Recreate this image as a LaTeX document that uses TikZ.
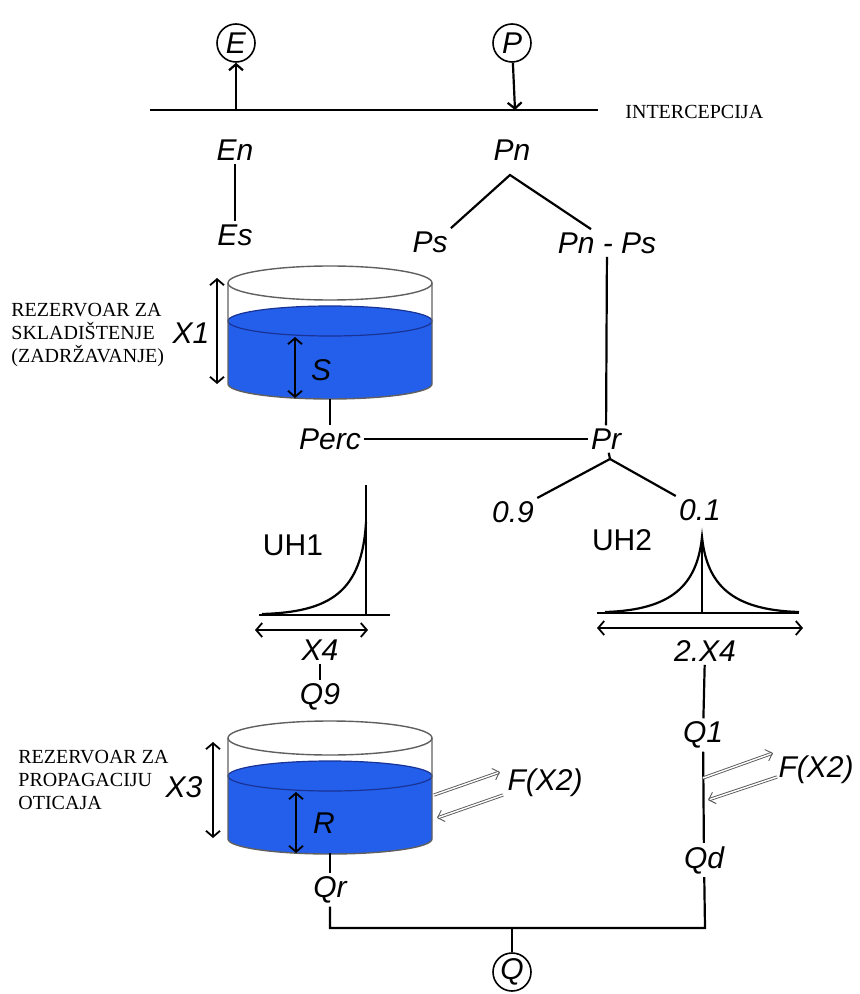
\documentclass[tikz,border=0pt]{standalone}
\usepackage{fontspec}
\setmainfont{Liberation Serif}
\newfontfamily\arial{Liberation Sans}
\usepackage{tikz}
\usetikzlibrary{arrows.meta}
\definecolor{water}{RGB}{35,95,235}
\definecolor{waterline}{RGB}{25,50,150}
\definecolor{wall}{RGB}{95,95,95}

\begin{document}
\begin{tikzpicture}[x=0.5pt,y=-0.5pt,
  lab/.style={font=\arial\itshape\fontsize{15}{15}\selectfont, inner sep=1.5pt},
  uh/.style={font=\arial\fontsize{15}{15}\selectfont, inner sep=1pt},
  note/.style={font=\fontsize{10}{11.5}\selectfont, align=left, inner sep=0pt},
  var/.style={circle, draw, line width=0.8pt, minimum size=19pt, inner sep=0pt, font=\arial\itshape\fontsize{15}{15}\selectfont},
  link/.style={line width=1.1pt},
  dim/.style={{Straight Barb[length=3pt,width=7pt]}-{Straight Barb[length=3pt,width=7pt]}, line width=0.9pt},
  exch/.style={-{Straight Barb[length=3pt,width=6pt]}, draw=gray!70!black, double=white, double distance=0.7pt, line width=0.45pt},
  >={Straight Barb[length=3pt,width=7pt]}]
\useasboundingbox (0,0) rectangle (859,994);

% interception
\node[var] (E) at (236,43) {E};
\node[var] (P) at (512,43) {P};
\coordinate (il) at (150,110);
\coordinate (ir) at (598,110);
\coordinate (eb) at (236,110);
\coordinate (pb) at (515,110);
\draw[line width=1.4pt] (il) -- (ir);
\draw[link,->] (eb) -- (E);
\draw[link,->] (P) -- (pb);
\node[note,anchor=west] (int) at (625,112) {INTERCEPCIJA};

\node[lab] (En) at (235,150) {En};
\node[lab] (Es) at (235,235) {Es};
\draw[link] (En) -- (Es);
\node[lab] (Pn) at (512,150) {Pn};
\node[lab] (Ps) at (430,242) {Ps};
\node[lab] (PnPs) at (607,243) {Pn - Ps};
\coordinate (pa) at (510,175);
\draw[link] (Ps.north east) -- (pa) -- ([xshift=-8pt]PnPs.north);

% tanks
\foreach \dy in {0,455}{
\begin{scope}[shift={(0,\dy)}]
\draw[wall,line width=0.7pt] (330,283) ellipse [x radius=51pt, y radius=8.5pt];
\fill[water] (228,321) -- (228,384) arc[start angle=180,end angle=360,x radius=51pt,y radius=7.5pt] -- (432,321) arc[start angle=0,end angle=180,x radius=51pt,y radius=7.5pt] -- cycle;
\draw[waterline,line width=0.6pt] (330,321) ellipse [x radius=51pt, y radius=7.5pt];
\draw[wall,line width=0.7pt] (228,283) -- (228,384) arc[start angle=180,end angle=360,x radius=51pt,y radius=7.5pt] -- (432,283);
\end{scope}
}

\node[note,anchor=west] (rez1) at (11,335) {REZERVOAR ZA\\SKLADIŠTENJE\\(ZADRŽAVANJE)};
\node[lab] (X1) at (191,333) {X1};
\draw[dim] (217,278) -- (217,384);
\node[lab] (S) at (321,370) {S};
\draw[dim] (295,337) -- (295,398);

\node[lab] (Perc) at (330,439) {Perc};
\node[lab] (Pr) at (606,439) {Pr};
\coordinate (tb1) at (330,399);
\draw[link] (tb1) -- (Perc);
\draw[link] (Perc) -- (Pr);
\draw[link] (PnPs) -- (Pr);

\coordinate (pj) at (610,459);
\node[lab] (n09) at (513,512) {0.9};
\node[lab] (n01) at (700,510) {0.1};
\draw[link] (Pr) -- (pj);
\draw[link] (n09.north east) -- (pj) -- (n01.north west);

% unit hydrographs
\node[uh] (UH1) at (293,545) {UH1};
\draw[link] (259,615) -- (390,615);
\draw[link] (366,615) -- (366,485);
\draw[link] (262,614) .. controls (330,612) and (362,592) .. (366,522);
\draw[dim] (255,630) -- (368,630);
\node[lab] (X4) at (320,650) {X4};
\node[lab] (Q9) at (320,697) {Q9};
\draw[link] (X4) -- (Q9);

\node[uh] (UH2) at (622,540) {UH2};
\draw[link] (597,613) -- (799,613);
\draw[link] (702,613) -- (702,537);
\draw[link] (605,612) .. controls (672,610) and (697,585) .. (702,537) .. controls (707,585) and (732,610) .. (799,612);
\draw[dim] (597,628) -- (803,628);
\node[lab] (X42) at (705,651) {2.X4};
\node[lab] (Q1) at (703,735) {Q1};
\node[lab] (Qd) at (704,860) {Qd};
\draw[link] (X42) -- (Q1);
\draw[link] (Q1) -- (Qd);

% routing store
\node[note,anchor=west] (rez2) at (18,780) {REZERVOAR ZA\\PROPAGACIJU\\OTICAJA};
\node[lab] (X3) at (184,787) {X3};
\draw[dim] (213,742) -- (213,838);
\node[lab] (R) at (324,823) {R};
\draw[dim] (296,792) -- (296,853);

\node[lab] (F1) at (545,783) {F(X2)};
\node[lab] (F2) at (816,770) {F(X2)};
\coordinate (f1a) at (434,795);
\coordinate (f1b) at (500,772);
\coordinate (f1c) at (503,795);
\coordinate (f1d) at (437,818);
\draw[exch] (f1a) -- (f1b);
\draw[exch] (f1c) -- (f1d);
\coordinate (f2a) at (703,778);
\coordinate (f2b) at (773,753);
\coordinate (f2c) at (777,777);
\coordinate (f2d) at (708,800);
\draw[exch] (f2a) -- (f2b);
\draw[exch] (f2c) -- (f2d);

\node[lab] (Qr) at (330,890) {Qr};
\coordinate (tb2) at (330,853);
\draw[link] (tb2) -- (Qr);
\coordinate (jl) at (330,928);
\coordinate (jr) at (705,928);
\coordinate (jq) at (512,928);
\draw[link] (Qr) -- (jl) -- (jr) -- (Qd);
\node[var] (Q) at (512,972) {Q};
\draw[link] (jq) -- (Q);
\end{tikzpicture}
\end{document}
